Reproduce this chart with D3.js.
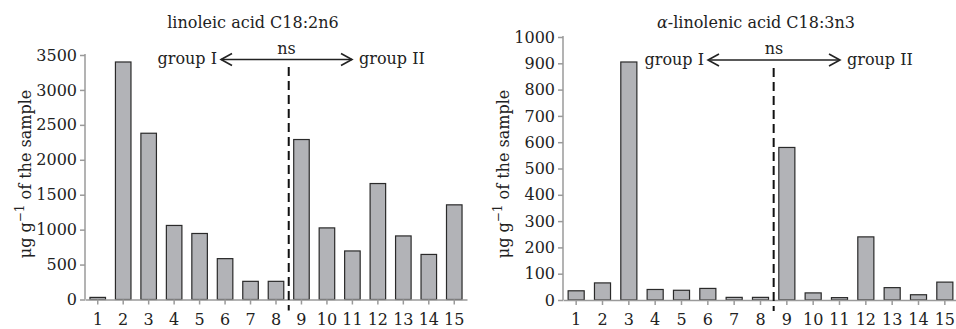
<!DOCTYPE html>
<html>
<head>
<meta charset="utf-8">
<script src="https://cdn.jsdelivr.net/npm/d3@7"></script>
<style>
html,body{margin:0;padding:0;background:#fff;}
svg{display:block;font-family:"DejaVu Serif",serif;}
</style>
</head>
<body>
<svg id="chart" width="956" height="329"></svg>
<script>
const categories = ["1","2","3","4","5","6","7","8","9","10","11","12","13","14","15"];
const linoleic = [30,3400,2380,1060,945,585,260,260,2290,1025,695,1660,910,645,1355];
const alphaLinolenic = [35,65,905,40,37,44,10,10,580,27,9,240,47,20,68];
const linoleicTicks = [0,500,1000,1500,2000,2500,3000,3500];
const alphaTicks = [0,100,200,300,400,500,600,700,800,900,1000];

const svg = d3.select("#chart");
const FS = 16;

function drawPanel(cfg){
  const g = svg.append("g");
  const x = d3.scaleBand().domain(categories).range([cfg.x0, cfg.x1]).paddingInner(0.39).paddingOuter(0.195);
  const y = d3.scaleLinear().domain([0, cfg.ymax]).range([cfg.y0, cfg.y1]);

  // y axis
  const ya = g.append("g").attr("transform", `translate(${cfg.x0},0)`)
    .call(d3.axisLeft(y).tickValues(cfg.ticks).tickSize(5).tickPadding(3).tickFormat(d3.format("d")));
  ya.selectAll("path,line").attr("stroke","#9a9a9a").attr("stroke-width",1.5);
  ya.select(".domain").attr("d", `M0,${cfg.y0}V${cfg.y1 - 1}`);
  ya.selectAll("text").attr("font-family","DejaVu Serif").attr("font-size",FS).attr("fill","#222");

  // bars
  g.selectAll("rect.bar").data(cfg.values).enter().append("rect")
    .attr("x",(d,i)=>x(categories[i]))
    .attr("y",d=>y(d))
    .attr("width",x.bandwidth())
    .attr("height",d=>cfg.y0 - y(d))
    .attr("fill","#b2b3b7").attr("stroke","#2a2a2a").attr("stroke-width",1.2);

  // x axis
  const xa = g.append("g").attr("transform", `translate(0,${cfg.y0})`)
    .call(d3.axisBottom(x).tickSize(5).tickPadding(9).tickSizeOuter(0));
  xa.selectAll("path,line").attr("stroke","#9a9a9a").attr("stroke-width",1.5);
  xa.selectAll("text").attr("font-family","DejaVu Serif").attr("font-size",FS).attr("fill","#222");

  // dashed divider between 8 and 9
  const xd = (x("8") + x.bandwidth() + x("9")) / 2;
  g.append("line").attr("x1",xd).attr("x2",xd).attr("y1",cfg.dashTop).attr("y2",cfg.y0 + 11)
    .attr("stroke","#111").attr("stroke-width",2).attr("stroke-dasharray","9,5");

  // title
  const t = g.append("text").attr("x",cfg.titleX).attr("y",28).attr("text-anchor","middle")
    .attr("font-size",FS).attr("fill","#222");
  if (cfg.alpha){
    t.append("tspan").attr("font-style","italic").text("α");
    t.append("tspan").text("-linolenic acid C18:3n3");
  } else {
    t.text("linoleic acid C18:2n6");
  }

  // group annotation
  const ay = cfg.arrowY;
  g.append("text").attr("x",cfg.arrowL - 4).attr("y",ay+4.5).attr("text-anchor","end")
    .attr("font-size",FS).attr("fill","#222").text("group I");
  g.append("text").attr("x",cfg.arrowR + 7).attr("y",ay+4.5).attr("text-anchor","start")
    .attr("font-size",FS).attr("fill","#222").text("group II");
  g.append("text").attr("x",(cfg.arrowL+cfg.arrowR)/2).attr("y",ay-6).attr("text-anchor","middle")
    .attr("font-size",FS).attr("fill","#222").text("ns");
  g.append("line").attr("x1",cfg.arrowL).attr("x2",cfg.arrowR).attr("y1",ay).attr("y2",ay)
    .attr("stroke","#222").attr("stroke-width",1.5);
  g.append("path").attr("d",`M${cfg.arrowL+11},${ay-6}L${cfg.arrowL},${ay}L${cfg.arrowL+11},${ay+6}`)
    .attr("fill","none").attr("stroke","#222").attr("stroke-width",1.6);
  g.append("path").attr("d",`M${cfg.arrowR-11},${ay-6}L${cfg.arrowR},${ay}L${cfg.arrowR-11},${ay+6}`)
    .attr("fill","none").attr("stroke","#222").attr("stroke-width",1.6);

  // y label
  const yl = g.append("text").attr("transform",`translate(${cfg.ylabX},174) rotate(-90)`)
    .attr("text-anchor","middle").attr("font-size",FS).attr("fill","#222");
  yl.append("tspan").text("μg g");
  yl.append("tspan").attr("dy",-7).attr("font-size",12).text("−1");
  yl.append("tspan").attr("dy",7).text(" of the sample");
}

drawPanel({x0:85, x1:467, y0:299.5, y1:55, ymax:3500, ticks:linoleicTicks, values:linoleic,
  titleX:253, arrowL:221, arrowR:352, arrowY:59.5, dashTop:67, ylabX:31});
drawPanel({x0:563, x1:958, y0:300, y1:37, ymax:1000, ticks:alphaTicks, values:alphaLinolenic, alpha:true,
  titleX:756, arrowL:708, arrowR:840, arrowY:60, dashTop:68, ylabX:509});
</script>
</body>
</html>
